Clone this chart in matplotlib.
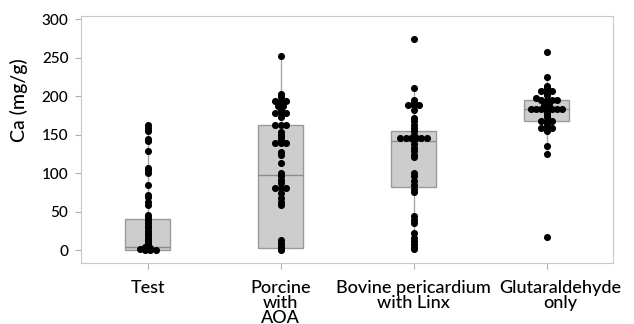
import matplotlib
matplotlib.use("Agg")
import matplotlib.pyplot as plt
import matplotlib.transforms as mtransforms
import numpy as np

plt.rcParams['font.family'] = ['Lato', 'DejaVu Sans']

# Grupos e rótulos do eixo x
groups = ["Test", "Porcine\nwith\nAOA", "Bovine pericardium\nwith Linx", "Glutaraldehyde\nonly"]

# Valores individuais de Ca (mg/g)
test_vals = [163, 159, 155, 144, 141, 129, 107, 104, 100, 84, 71, 69, 62, 58,
             46, 43, 39, 35, 31, 28, 25, 22, 19, 16, 13, 10, 8, 6, 4, 3, 2, 1,
             0, 0, 0]
porcine_vals = [252, 203, 199, 193, 193, 193, 187, 187, 182, 178, 178, 178, 173,
                162, 162, 162, 153, 150, 147, 143, 139, 139, 139, 127, 123, 113,
                100, 96, 91, 87, 80, 80, 80, 74, 68, 63, 58, 13, 9, 5, 2, 0]
bovine_vals = [274, 210, 195, 191, 188, 188, 188, 182, 171, 167, 162, 158, 154,
               149, 146, 146, 146, 146, 146, 146, 143, 138, 133, 128, 124, 121,
               100, 96, 89, 84, 79, 76, 44, 39, 35, 22, 16, 12, 8, 4, 1]
glut_vals = [257, 225, 213, 210, 207, 207, 207, 203, 201, 197, 195, 195, 195,
             195, 190, 188, 188, 186, 183, 183, 183, 183, 183, 183, 183, 180,
             178, 175, 173, 168, 168, 168, 165, 162, 158, 158, 158, 154, 135,
             125, 17]

# Estatísticas das caixas (q1, mediana, q3, bigodes)
q1 = [0, 3, 82, 167]
med = [4, 97, 141, 183]
q3 = [40, 162, 155, 195]
whislo = [0, 0, 1, 125]
whishi = [163, 252, 210, 225]

all_vals = [test_vals, porcine_vals, bovine_vals, glut_vals]

fig = plt.figure(figsize=(6.34, 3.24), dpi=100)
ax = fig.add_axes([0.1278, 0.188, 0.8391, 0.7626])

stats = []
for i in range(len(groups)):
    stats.append(dict(q1=q1[i], med=med[i], q3=q3[i], whislo=whislo[i],
                      whishi=whishi[i], fliers=[]))

ax.bxp(stats, positions=range(len(groups)), widths=0.34, patch_artist=True,
       showcaps=False, showfliers=False,
       boxprops=dict(facecolor='#cdcdcd', edgecolor='#9a9a9a', linewidth=1),
       medianprops=dict(color='#8c8c8c', linewidth=1),
       whiskerprops=dict(color='#a8a8a8', linewidth=1), zorder=1)

# Pontos empilhados horizontalmente quando caem no mesmo intervalo
dx = 0.04
for i, vals in enumerate(all_vals):
    vals = np.array(vals, dtype=float)
    bins = np.round(vals / 2).astype(int)
    xs, ys = [], []
    for b in np.unique(bins):
        sel = vals[bins == b]
        k = len(sel)
        offs = (np.arange(k) - (k - 1) / 2) * dx
        xs.extend(i + offs)
        ys.extend(sel)
    ax.scatter(xs, ys, s=26, color='black', zorder=3, linewidths=0)

ax.set_xlim(-0.5, 3.5)
ax.set_ylim(-17, 304)
ax.set_yticks(range(0, 301, 50))
ax.set_xticks(range(len(groups)))
ax.set_xticklabels(groups, fontsize=13, linespacing=0.95, fontweight='medium')
ax.tick_params(axis='y', labelsize=11, length=4, color='#b0b0b0', pad=5)
ax.tick_params(axis='x', length=4, color='#b0b0b0', pad=8)
for lbl in ax.get_yticklabels():
    lbl.set_fontweight('medium')

# Desloca o último rótulo para a direita para não encostar no vizinho
last = ax.get_xticklabels()[-1]
last.set_transform(last.get_transform() +
                   mtransforms.ScaledTranslation(10 / 72, 0, fig.dpi_scale_trans))

for s in ax.spines.values():
    s.set_color('#c8c8c8')
ax.set_ylabel('Ca (mg/g)', fontsize=14, fontweight='medium')
ax.yaxis.set_label_coords(-0.1, 0.66)

fig.savefig('out.png', dpi=100)
